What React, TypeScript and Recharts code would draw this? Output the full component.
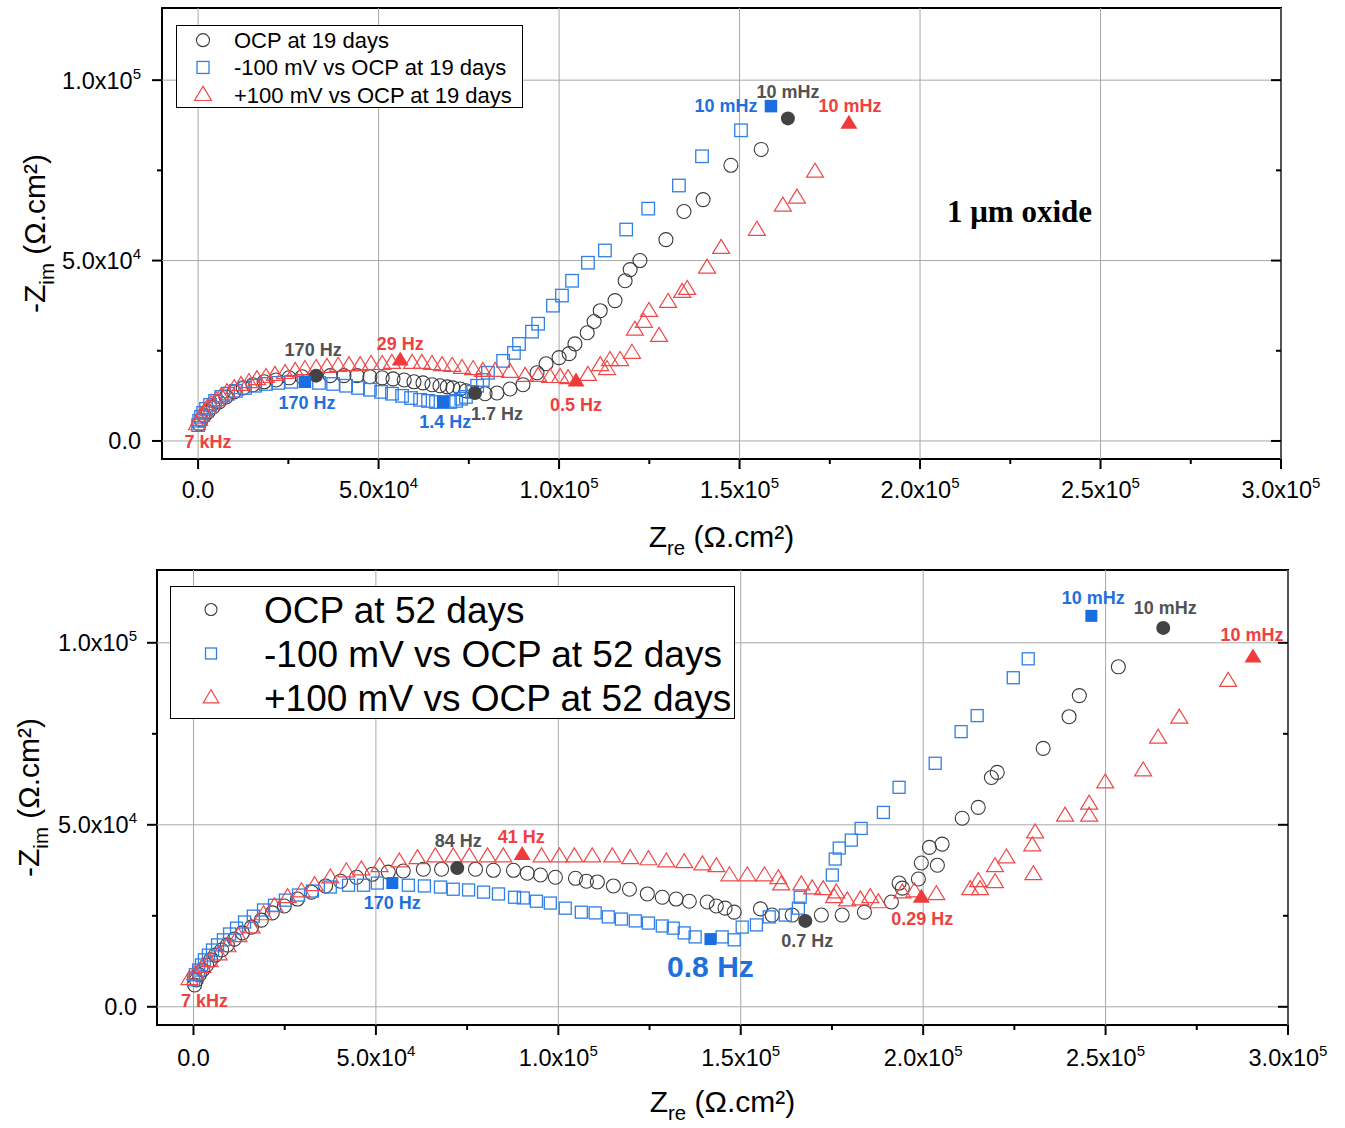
import { ScatterChart, Scatter, XAxis, YAxis, ReferenceLine, ReferenceArea, Label } from 'recharts'

type Pt = { x: number; y: number }
type Mark = { x: number; y: number; f: string }

const pts = (rows: number[][]): Pt[] => rows.map(([x, y]) => ({ x, y }))
const marks = (rows: [number, number, string][]): Mark[] => rows.map(([x, y, f]) => ({ x, y, f }))

// ---- 19 days, 1 µm oxide ----
const OCP_19 = pts([
  [300, 4700], [830, 5800], [1660, 6950], [2770, 8060], [4150, 9440], [5800, 10800], [7760, 12200],
  [9970, 13600], [12500, 14700], [15200, 15600], [18300, 16400], [21600, 16900], [25200, 17500],
  [28800, 17800], [36600, 18100], [40400, 18100], [44000, 18100], [47600, 17800], [51000, 17500],
  [54000, 17200], [57100, 16900], [59800, 16400], [62300, 16100], [64800, 15600], [67000, 15300],
  [69000, 15000], [70600, 14700], [72600, 14400], [74200, 13900], [79500, 13100], [82800, 13300],
  [86400, 14400], [90000, 15600], [93900, 18900], [96400, 21400], [100000, 23100], [102800, 24200],
  [104400, 26900], [107800, 30000], [109700, 33100], [111400, 36100], [115500, 38900], [118300, 44400],
  [119700, 47500], [122400, 50000], [129600, 55800], [134600, 63600], [139900, 66900], [147600, 76400],
  [156000, 80800],
])
const OCP_19_MARKS = marks([[32700, 18100, '170 Hz'], [76700, 13300, '1.7 Hz'], [163400, 89400, '10 mHz']])

const MINUS_19 = pts([
  [0, 4400], [300, 5600], [800, 6700], [1400, 7800], [2200, 8900], [3300, 10000], [4700, 11100],
  [6400, 12200], [8300, 13100], [10500, 13900], [13000, 14700], [15800, 15300], [18800, 15800],
  [22200, 16100], [25800, 16400], [33500, 16100], [37400, 15800], [41000, 15300], [44300, 14700],
  [47600, 14200], [50700, 13600], [53700, 13100], [56500, 12500], [59000, 11900], [61500, 11400],
  [63700, 11100], [65900, 10800], [69800, 10800], [71500, 11100], [72900, 11700], [74200, 12200],
  [75900, 13600], [77300, 15300], [78900, 16900], [80300, 18900], [84500, 22200], [87500, 24400],
  [88900, 26900], [92500, 30300], [94200, 32500], [98300, 37500], [100800, 40300], [103600, 44400],
  [108000, 49400], [112700, 52800], [118600, 58600], [124700, 64400], [133200, 70800], [139600, 78900],
  [150400, 86100],
])
const MINUS_19_MARKS = marks([[29600, 16400, '170 Hz'], [67900, 10800, '1.4 Hz'], [158700, 92800, '10 mHz']])

const PLUS_19 = pts([
  [-300, 4400], [300, 5600], [800, 6700], [1700, 7800], [2500, 8900], [3600, 10000], [5000, 11100],
  [6400, 12200], [8000, 13300], [10000, 14400], [11900, 15300], [14100, 16100], [16300, 16900],
  [18800, 17500], [21300, 18100], [24100, 18600], [26900, 19200], [29600, 19700], [32700, 20000],
  [35700, 20300], [38800, 20600], [41800, 20800], [44900, 20800], [47900, 21100], [51000, 21100],
  [53700, 21400], [59300, 21400], [62000, 21400], [64800, 21100], [67600, 20800], [70400, 20600],
  [73100, 20000], [76200, 19700], [78900, 19200], [82300, 19200], [86400, 18900], [90600, 17800],
  [94200, 17800], [97500, 17500], [100300, 17500], [102500, 17200], [108000, 18100], [111400, 20800],
  [113300, 19700], [114100, 22200], [116900, 22200], [120200, 24200], [121000, 30600], [123500, 32800],
  [124900, 35800], [127700, 28900], [130200, 38300], [134100, 41100], [135500, 41900], [141000, 47800],
  [144900, 53300], [154800, 58300], [162000, 65000], [165900, 67200], [170900, 74400],
])
const PLUS_19_MARKS = marks([[56000, 22200, '29 Hz'], [104700, 16400, '0.5 Hz'], [180300, 87800, '10 mHz']])
const HF_19 = marks([[-300, 4400, '7 kHz']])

// ---- 52 days, 1.9 µm oxide ----
const OCP_52 = pts([
  [300, 6000], [800, 7400], [1600, 8800], [2500, 10100], [3600, 11500], [4700, 12900], [6000, 14200],
  [7700, 15600], [9300, 17000], [11200, 18600], [13400, 20300], [15900, 21900], [18600, 23800],
  [21600, 25800], [24900, 27700], [28500, 29600], [32300, 31500], [36200, 33200], [40300, 34500],
  [44700, 35600], [49000, 36400], [53400, 37000], [57500, 37300], [63000, 37800], [68000, 37800],
  [77300, 37800], [82200, 37500], [87700, 37500], [91500, 36700], [95100, 36200], [99200, 35600],
  [104700, 35300], [107700, 34500], [110700, 34300], [115100, 33200], [119500, 32300], [124400, 31000],
  [128500, 30100], [132300, 29600], [135900, 29000], [140800, 28800], [143300, 27700], [145700, 27100],
  [148200, 26000], [155400, 26900], [158600, 25200], [164100, 25200], [172100, 25200], [177800, 25200],
  [183900, 26000], [191300, 28800], [193400, 34000], [194300, 32600], [198700, 35100], [199500, 39500],
  [201700, 43800], [203900, 38900], [205200, 44700], [210700, 51800], [215100, 54800], [218700, 63000],
  [220300, 64400], [232900, 71000], [240000, 79700], [242800, 85500], [253500, 93400],
])
const OCP_52_MARKS = marks([[72300, 38100, '84 Hz'], [167700, 23600, '0.7 Hz'], [265800, 104100, '10 mHz']])

const MINUS_52 = pts([
  [0, 7400], [500, 8800], [1400, 10100], [2200, 11500], [3000, 12900], [4100, 14200], [5200, 15600],
  [6600, 17000], [8200, 18400], [9900, 20000], [11800, 21600], [14000, 23300], [16400, 24900],
  [19200, 26600], [22200, 27900], [25200, 29300], [28800, 30700], [32600, 31800], [37500, 32900],
  [42500, 33400], [46600, 33400], [50400, 34000], [58900, 33400], [63300, 33200], [67700, 32900],
  [71200, 32300], [75400, 32100], [79500, 31500], [83600, 31000], [88000, 30100], [90400, 29900],
  [94000, 29000], [97800, 28500], [101900, 27100], [106300, 26000], [110100, 25800], [113700, 24700],
  [117300, 24100], [121100, 23600], [124700, 23000], [128500, 22200], [131500, 21600], [134500, 20300],
  [137500, 19200], [144900, 19200], [148200, 18400], [150400, 21900], [154300, 22500], [157800, 24700],
  [162200, 25200], [165800, 27100], [166300, 30100], [175100, 36200], [175900, 40600], [177000, 43600],
  [180300, 45800], [183000, 49000], [189100, 53400], [193400, 60300], [203300, 66900], [210400, 75600],
  [214800, 80000], [224700, 90400], [228800, 95600],
])
const MINUS_52_MARKS = marks([[54500, 34000, '170 Hz'], [141700, 18600, '0.8 Hz'], [246100, 107400, '10 mHz']])

const PLUS_52 = pts([
  [-1100, 7400], [500, 8800], [2500, 10700], [4400, 12300], [6900, 14200], [9300, 16400], [12300, 19200],
  [15900, 21600], [19200, 25200], [22200, 27400], [25800, 29900], [29600, 31500], [33200, 33200],
  [37500, 35300], [41900, 37000], [46000, 37500], [51000, 38400], [56400, 39700], [61400, 40600],
  [66300, 41100], [71200, 41100], [75600, 41100], [80600, 41100], [84900, 41100], [95400, 41100],
  [100300, 41100], [104400, 41100], [109300, 41100], [114800, 41100], [119700, 40600], [124700, 40300],
  [129600, 39700], [134500, 39500], [139500, 38900], [143300, 38400], [146900, 35900], [151800, 35900],
  [156500, 35900], [160300, 35100], [161100, 33400], [166600, 33400], [169600, 32300], [172600, 32100],
  [175600, 29900], [176200, 31200], [179200, 29000], [182800, 29300], [185500, 29900], [187700, 28500],
  [194300, 31200], [197600, 31500], [203600, 30700], [212900, 32100], [215600, 32100], [215100, 34300],
  [219700, 34000], [219700, 38400], [222800, 40800], [230200, 36200], [229900, 44100], [230700, 47700],
  [238900, 52300], [245500, 52300], [245500, 55600], [249900, 61400], [260300, 64700], [264400, 73700],
  [270200, 79200], [283600, 89300],
])
const PLUS_52_MARKS = marks([[90100, 41600, '41 Hz'], [199500, 29900, '0.29 Hz'], [290400, 95900, '10 mHz']])
const HF_52 = marks([[-1100, 7400, '7 kHz']])

const X_TICKS = [0, 25000, 50000, 75000, 100000, 125000, 150000, 175000, 200000, 225000, 250000, 275000, 300000]
const X_MAJOR = [0, 50000, 100000, 150000, 200000, 250000, 300000]
const Y_TICKS = [0, 25000, 50000, 75000, 100000]
const Y_MAJOR = [0, 50000, 100000]
const X_DOMAIN: [number, number] = [-10000, 300000]
const Y_DOMAIN: [number, number] = [-5000, 120000]

const LEGEND_19 = ['OCP at 19 days', '-100 mV vs OCP at 19 days', '+100 mV vs OCP at 19 days']
const LEGEND_52 = ['OCP at 52 days', '-100 mV vs OCP at 52 days', '+100 mV vs OCP at 52 days']

// label offsets in px from the annotated point
const OFFSETS_19: Record<string, [number, number]> = {
  'ocp|170 Hz': [-3, -26], 'ocp|1.7 Hz': [22, 21], 'ocp|10 mHz': [0, -26],
  'minus|170 Hz': [2, 21], 'minus|1.4 Hz': [2, 20], 'minus|10 mHz': [-45, 0],
  'plus|29 Hz': [0, -17], 'plus|0.5 Hz': [0, 23], 'plus|10 mHz': [1, -18], 'plus|7 kHz': [11, 17],
}
const OFFSETS_52: Record<string, [number, number]> = {
  'ocp|84 Hz': [1, -27], 'ocp|0.7 Hz': [2, 20], 'ocp|10 mHz': [2, -20],
  'minus|170 Hz': [0, 20], 'minus|0.8 Hz': [0, 27], 'minus|10 mHz': [2, -18],
  'plus|41 Hz': [-1, -18], 'plus|0.29 Hz': [1, 21], 'plus|10 mHz': [-1, -23], 'plus|7 kHz': [15, 21],
}

const FONT = '"Liberation Sans", Arial, sans-serif'
const SERIF = '"Liberation Serif", "Times New Roman", serif'

const C = {
  grayLine: '#3a3a3a', grayFill: '#434343', grayText: '#525252',
  blueLine: '#2f7fe6', blueFill: '#1a6ee0', blueText: '#1f6fdc',
  redLine: '#f04848', redFill: '#ef3b3b', redText: '#ef4040',
  grid: '#a8a8a8',
}

function sci(v: number) {
  if (v === 0) return { m: '0.0', e: '' }
  const e = Math.floor(Math.log10(v) + 1e-9)
  return { m: (v / 10 ** e).toFixed(1), e: String(e) }
}

function SciText({ x, y, v, anchor, size }: { x: number; y: number; v: number; anchor: 'start' | 'middle' | 'end'; size: number }) {
  const { m, e } = sci(v)
  return (
    <text x={x} y={y} textAnchor={anchor} fontFamily={FONT} fontSize={size} fill="#000">
      {m}
      {e && 'x10'}
      {e && <tspan dy={-size * 0.42} fontSize={size * 0.64}>{e}</tspan>}
    </text>
  )
}

const isMajor = (v: number) => v % 50000 === 0

const bottomTick = (size: number, gap: number) => (p: any) => {
  const v = p.payload.value
  const major = isMajor(v)
  return (
    <g>
      <line x1={p.x} x2={p.x} y1={p.y} y2={p.y + (major ? 10 : 5)} stroke="#000" strokeWidth={2} />
      {major && <SciText x={p.x} y={p.y + gap} v={v} anchor="middle" size={size} />}
    </g>
  )
}
const topTick = (p: any) => {
  const major = isMajor(p.payload.value)
  return <line x1={p.x} x2={p.x} y1={p.y} y2={p.y + (major ? 10 : 5)} stroke="#000" strokeWidth={2} />
}
const leftTick = (size: number, gap: number) => (p: any) => {
  const v = p.payload.value
  const major = isMajor(v)
  return (
    <g>
      <line x1={p.x - (major ? 10 : 5)} x2={p.x} y1={p.y} y2={p.y} stroke="#000" strokeWidth={2} />
      {major && <SciText x={p.x - gap} y={p.y + size * 0.36} v={v} anchor="end" size={size} />}
    </g>
  )
}
const rightTick = (p: any) => {
  const major = isMajor(p.payload.value)
  return <line x1={p.x - (major ? 10 : 5)} x2={p.x} y1={p.y} y2={p.y} stroke="#000" strokeWidth={2} />
}

const xTitle = (dy: number, size: number) => (props: any) => {
  const vb = props.viewBox
  return (
    <text x={vb.x + vb.width / 2} y={vb.y + dy} textAnchor="middle" fontFamily={FONT} fontSize={size} fill="#000">
      Z<tspan dy={size * 0.28} fontSize={size * 0.68}>re</tspan>
      <tspan dy={-size * 0.28}> (Ω.cm²)</tspan>
    </text>
  )
}
const yTitle = (baseX: number, size: number) => (props: any) => {
  const vb = props.viewBox
  const cy = vb.y + vb.height / 2
  return (
    <text transform={`translate(${baseX},${cy}) rotate(-90)`} textAnchor="middle" fontFamily={FONT} fontSize={size} fill="#000">
      -Z<tspan dy={size * 0.3} fontSize={size * 0.68}>im</tspan>
      <tspan dy={-size * 0.3}> (Ω.cm²)</tspan>
    </text>
  )
}

const openCircle = (r: number) => (p: any) => (
  <circle cx={p.cx} cy={p.cy} r={r} fill="none" stroke={C.grayLine} strokeWidth={1.1} />
)
const openSquare = (s: number) => (p: any) => (
  <rect x={p.cx - s / 2} y={p.cy - s / 2} width={s} height={s} fill="none" stroke={C.blueLine} strokeWidth={1.3} />
)
const triPoints = (cx: number, cy: number, w: number, h: number) =>
  `${cx},${cy - (h * 2) / 3} ${cx - w / 2},${cy + h / 3} ${cx + w / 2},${cy + h / 3}`
const openTriangle = (w: number, h: number) => (p: any) => (
  <polygon points={triPoints(p.cx, p.cy, w, h)} fill="none" stroke={C.redLine} strokeWidth={1.2} />
)
const fillCircle = (r: number) => (p: any) => <circle cx={p.cx} cy={p.cy} r={r} fill={C.grayFill} />
const fillSquare = (s: number) => (p: any) => (
  <rect x={p.cx - s / 2} y={p.cy - s / 2} width={s} height={s} fill={C.blueFill} />
)
const fillTriangle = (w: number, h: number) => (p: any) => (
  <polygon points={triPoints(p.cx, p.cy, w, h)} fill={C.redFill} />
)

const freqLabel = (series: string, color: string, offsets: Record<string, [number, number]>, big: string[] = []) => (p: any) => {
  const f: string = p.payload.f
  const [dx, dy] = offsets[`${series}|${f}`] ?? [0, 0]
  const size = big.includes(f) ? 30 : 18
  return (
    <text x={p.cx + dx} y={p.cy + dy} textAnchor="middle" dominantBaseline="central" fontFamily={FONT} fontWeight="bold" fontSize={size} fill={color}>
      {f}
    </text>
  )
}

type PanelProps = {
  top: number
  height: number
  margin: { top: number; right: number; bottom: number; left: number }
  ocp: Pt[]; minus: Pt[]; plus: Pt[]
  ocpMarks: Mark[]; minusMarks: Mark[]; plusMarks: Mark[]; hf: Mark[]
  offsets: Record<string, [number, number]>
  big?: string[]
  tickSize: number
  xTickGap: number
  yTickGap: number
  xTitleDy: number
  yTitleX: number
  titleSize: number
  legend: string[]
  legendBox: { x: number; y: number; w: number; h: number; rowH: number; markX: number; textX: number; font: number; mk: number }
  oxide: string
  oxidePos: { x: number; y: number; size: number }
  mk: { r: number; sq: number; tw: number; th: number }
}

function Legend({ names, b }: { names: string[]; b: PanelProps['legendBox'] }) {
  const s = b.mk
  return (
    <g>
      <rect x={b.x} y={b.y} width={b.w} height={b.h} fill="#fff" stroke="#000" strokeWidth={1} />
      {names.map((n, i) => {
        const cy = b.y + b.rowH * (i + 0.5) + 1
        return (
          <g key={n}>
            {i === 0 && <circle cx={b.markX} cy={cy} r={s / 2} fill="none" stroke={C.grayLine} strokeWidth={1.1} />}
            {i === 1 && <rect x={b.markX - s / 2 + 0.5} y={cy - s / 2 + 0.5} width={s - 1} height={s - 1} fill="none" stroke={C.blueLine} strokeWidth={1.3} />}
            {i === 2 && <polygon points={triPoints(b.markX, cy + 1, s * 1.3, s * 1.1)} fill="none" stroke={C.redLine} strokeWidth={1.2} />}
            <text x={b.textX} y={cy + b.font * 0.36} fontFamily={FONT} fontSize={b.font} fill="#000">{n}</text>
          </g>
        )
      })}
    </g>
  )
}

// axes need a non-zero size to be drawn; use 1px and shift margins by 1
function Panel(p: PanelProps) {
  const W = 1345
  const m = { top: p.margin.top - 1, right: p.margin.right - 1, bottom: p.margin.bottom - 1, left: p.margin.left - 1 }
  return (
    <div style={{ position: 'absolute', left: 0, top: p.top, width: W, height: p.height }}>
      <ScatterChart width={W} height={p.height} margin={m}>
        <XAxis dataKey="x" type="number" domain={X_DOMAIN} allowDataOverflow ticks={X_TICKS} interval={0}
          height={1} axisLine={false} tickLine={false} tickSize={0} tickMargin={0} tick={bottomTick(p.tickSize, p.xTickGap)}>
          <Label content={xTitle(p.xTitleDy, p.titleSize)} />
        </XAxis>
        <XAxis xAxisId="top" orientation="top" type="number" domain={X_DOMAIN} allowDataOverflow ticks={X_TICKS} interval={0}
          height={1} axisLine={false} tickLine={false} tickSize={0} tickMargin={0} tick={topTick} />
        <YAxis dataKey="y" type="number" domain={Y_DOMAIN} allowDataOverflow ticks={Y_TICKS} interval={0}
          width={1} axisLine={false} tickLine={false} tickSize={0} tickMargin={0} tick={leftTick(p.tickSize, p.yTickGap)}>
          <Label content={yTitle(p.yTitleX, p.titleSize)} />
        </YAxis>
        <YAxis yAxisId="right" orientation="right" type="number" domain={Y_DOMAIN} allowDataOverflow ticks={Y_TICKS} interval={0}
          width={1} axisLine={false} tickLine={false} tickSize={0} tickMargin={0} tick={rightTick} />

        {X_MAJOR.map((v) => <ReferenceLine key={`gx${v}`} x={v} stroke={C.grid} strokeWidth={1} />)}
        {Y_MAJOR.map((v) => <ReferenceLine key={`gy${v}`} y={v} stroke={C.grid} strokeWidth={1} />)}
        <ReferenceArea x1={X_DOMAIN[0]} x2={X_DOMAIN[1]} y1={Y_DOMAIN[0]} y2={Y_DOMAIN[1]} fill="none" fillOpacity={0} stroke="#000" strokeWidth={2} />

        <Scatter data={p.ocp} shape={openCircle(p.mk.r)} isAnimationActive={false} />
        <Scatter data={p.minus} shape={openSquare(p.mk.sq)} isAnimationActive={false} />
        <Scatter data={p.plus} shape={openTriangle(p.mk.tw, p.mk.th)} isAnimationActive={false} />
        <Scatter data={p.ocpMarks} shape={fillCircle(p.mk.r)} isAnimationActive={false} />
        <Scatter data={p.minusMarks} shape={fillSquare(p.mk.sq)} isAnimationActive={false} />
        <Scatter data={p.plusMarks} shape={fillTriangle(p.mk.tw, p.mk.th)} isAnimationActive={false} />
        <Scatter data={p.ocpMarks} shape={freqLabel('ocp', C.grayText, p.offsets)} isAnimationActive={false} />
        <Scatter data={p.minusMarks} shape={freqLabel('minus', C.blueText, p.offsets, p.big)} isAnimationActive={false} />
        <Scatter data={[...p.plusMarks, ...p.hf]} shape={freqLabel('plus', C.redText, p.offsets)} isAnimationActive={false} />
      </ScatterChart>
      <svg width={W} height={p.height} style={{ position: 'absolute', left: 0, top: 0, pointerEvents: 'none' }}>
        <Legend names={p.legend} b={p.legendBox} />
        <text x={p.oxidePos.x} y={p.oxidePos.y} fontFamily={SERIF} fontWeight="bold" fontSize={p.oxidePos.size} fill="#000">
          {p.oxide}
        </text>
      </svg>
    </div>
  )
}

export default function App() {
  return (
    <div style={{ position: 'absolute', left: 0, top: 0, width: 1345, height: 1128, background: '#fff', overflow: 'hidden' }}>
      <Panel
        top={0} height={560} margin={{ top: 8, right: 64, bottom: 101, left: 162 }}
        ocp={OCP_19} minus={MINUS_19} plus={PLUS_19}
        ocpMarks={OCP_19_MARKS} minusMarks={MINUS_19_MARKS} plusMarks={PLUS_19_MARKS} hf={HF_19}
        offsets={OFFSETS_19}
        tickSize={23.5} xTickGap={39} yTickGap={21} xTitleDy={88} yTitleX={45} titleSize={30}
        legend={LEGEND_19}
        legendBox={{ x: 176.5, y: 25.5, w: 346, h: 82, rowH: 27.3, markX: 203, textX: 234, font: 22, mk: 13 }}
        oxide="1 μm oxide" oxidePos={{ x: 947, y: 222, size: 31 }}
        mk={{ r: 7, sq: 12.5, tw: 17, th: 14 }}
      />
      <Panel
        top={560} height={568} margin={{ top: 10, right: 57, bottom: 103, left: 157 }}
        ocp={OCP_52} minus={MINUS_52} plus={PLUS_52}
        ocpMarks={OCP_52_MARKS} minusMarks={MINUS_52_MARKS} plusMarks={PLUS_52_MARKS} hf={HF_52}
        offsets={OFFSETS_52} big={['0.8 Hz']}
        tickSize={23.5} xTickGap={41} yTickGap={20} xTitleDy={87} yTitleX={39} titleSize={30}
        legend={LEGEND_52}
        legendBox={{ x: 170.5, y: 26.5, w: 564, h: 132, rowH: 44, markX: 211, textX: 264, font: 37, mk: 12 }}
        oxide="1.9 μm oxide" oxidePos={{ x: 748, y: 621, size: 32 }}
        mk={{ r: 7, sq: 12, tw: 17, th: 14 }}
      />
    </div>
  )
}
